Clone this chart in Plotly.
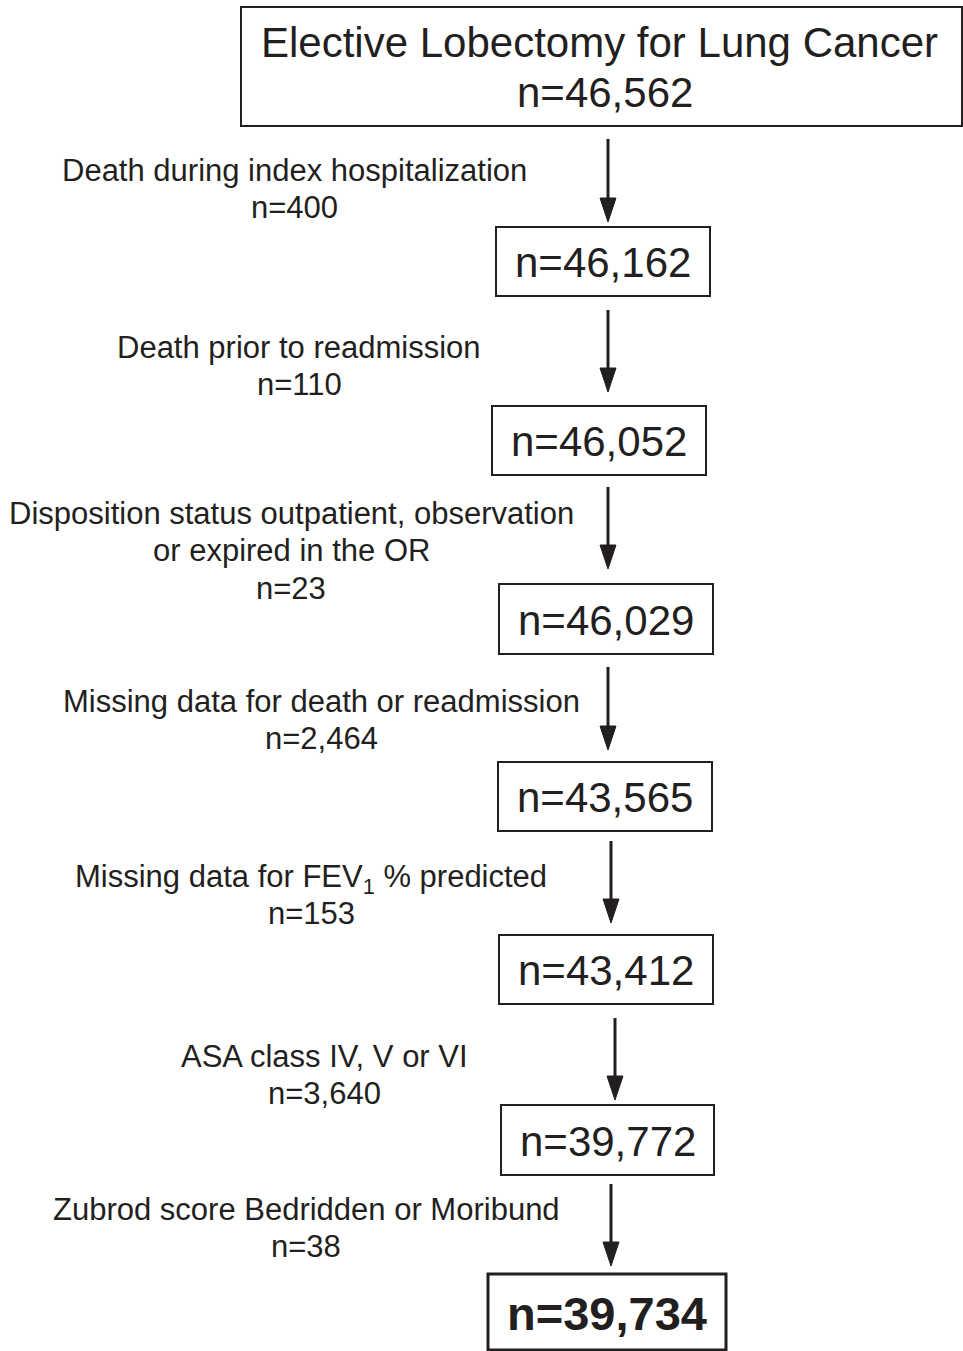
import plotly.graph_objects as go

# ---------------- data ----------------
title_text = "Elective Lobectomy for Lung Cancer"
box_counts = [46562, 46162, 46052, 46029, 43565, 43412, 39772, 39734]
excl_labels = [
    ["Death during index hospitalization"],
    ["Death prior to readmission"],
    ["Disposition status outpatient, observation", "or expired in the OR"],
    ["Missing data for death or readmission"],
    ["Missing data for FEV<sub>1</sub> % predicted"],
    ["ASA class IV, V or VI"],
    ["Zubrod score Bedridden or Moribund"],
]
excl_counts = [400, 110, 23, 2464, 153, 3640, 38]

# ---------------- layout geometry (pixels) ----------------
W, H = 963, 1351
box_geom = [  # x0, x1, y0, y1
    (241, 962, 7, 126),
    (496, 710, 227, 296),
    (492, 706, 406, 475),
    (499, 713, 584, 654),
    (498, 712, 762, 831),
    (499, 713, 935, 1004),
    (501, 714, 1105, 1175),
    (488, 726, 1274, 1350),
]
box_text_y = [(42, 92), 262, 441, 620, 797, 970, 1141, 1313]
arrow_geom = [  # x, y_start, y_tip
    (608, 139, 222),
    (608, 310, 392),
    (608, 487, 569),
    (608, 667, 750),
    (611, 841, 923),
    (615, 1018, 1100),
    (611, 1184, 1266),
]
label_x = [294, 299, 291, 321, 311, 324, 306]
label_y0 = [170, 347, 513, 701, 876, 1056, 1209]
line_gap = 37.5

INK = "#231f20"
FONT = "Liberation Sans, Arial, sans-serif"

fig = go.Figure()
fig.add_trace(go.Scatter(x=[0], y=[0], mode="markers", marker=dict(opacity=0), hoverinfo="skip", showlegend=False))

shapes = []
annotations = []

# boxes
for i, (x0, x1, y0, y1) in enumerate(box_geom):
    last = i == len(box_geom) - 1
    shapes.append(dict(type="rect", xref="x", yref="y", x0=x0, x1=x1, y0=y0, y1=y1,
                       line=dict(color=INK, width=3 if last else 2), fillcolor="white"))

# box texts
cx0 = (box_geom[0][0] + box_geom[0][1]) / 2
annotations.append(dict(x=cx0 - 2, y=box_text_y[0][0], text=title_text, showarrow=False,
                        xanchor="center", yanchor="middle", font=dict(family=FONT, size=42, color=INK)))
annotations.append(dict(x=cx0 + 3, y=box_text_y[0][1], text=f"n={box_counts[0]:,}", showarrow=False,
                        xanchor="center", yanchor="middle", font=dict(family=FONT, size=42, color=INK)))
for i in range(1, len(box_counts)):
    x0, x1, y0, y1 = box_geom[i]
    last = i == len(box_counts) - 1
    txt = f"n={box_counts[i]:,}"
    if last:
        txt = f"<b>{txt}</b>"
    annotations.append(dict(x=(x0 + x1) / 2, y=box_text_y[i], text=txt, showarrow=False,
                            xanchor="center", yanchor="middle",
                            font=dict(family=FONT, size=47 if last else 42, color=INK)))

# arrows
for (ax, ys, yt) in arrow_geom:
    head_h, head_w = 24, 8
    shapes.append(dict(type="line", xref="x", yref="y", x0=ax, x1=ax, y0=ys, y1=yt - head_h + 2,
                       line=dict(color=INK, width=3)))
    shapes.append(dict(type="path", xref="x", yref="y",
                       path=f"M {ax - head_w} {yt - head_h} L {ax + head_w} {yt - head_h} L {ax} {yt} Z",
                       fillcolor=INK, line=dict(color=INK, width=1)))

# exclusion labels
for i, lines in enumerate(excl_labels):
    all_lines = lines + [f"n={excl_counts[i]:,}"]
    for j, ln in enumerate(all_lines):
        ysh = -3 if "<sub>" in ln else 0
        annotations.append(dict(x=label_x[i], y=label_y0[i] + j * line_gap, text=ln, showarrow=False,
                                xanchor="center", yanchor="middle", yshift=ysh,
                                font=dict(family=FONT, size=31, color=INK)))

fig.update_layout(
    width=W, height=H,
    margin=dict(l=0, r=0, t=0, b=0),
    paper_bgcolor="white", plot_bgcolor="white",
    xaxis=dict(range=[0, W], visible=False, fixedrange=True),
    yaxis=dict(range=[H, 0], visible=False, fixedrange=True),
    shapes=shapes, annotations=annotations, showlegend=False,
)

fig.write_html("out.html", config={"displayModeBar": False},
               post_script="document.body.style.margin='0';document.body.style.padding='0';document.body.style.overflow='hidden';")
